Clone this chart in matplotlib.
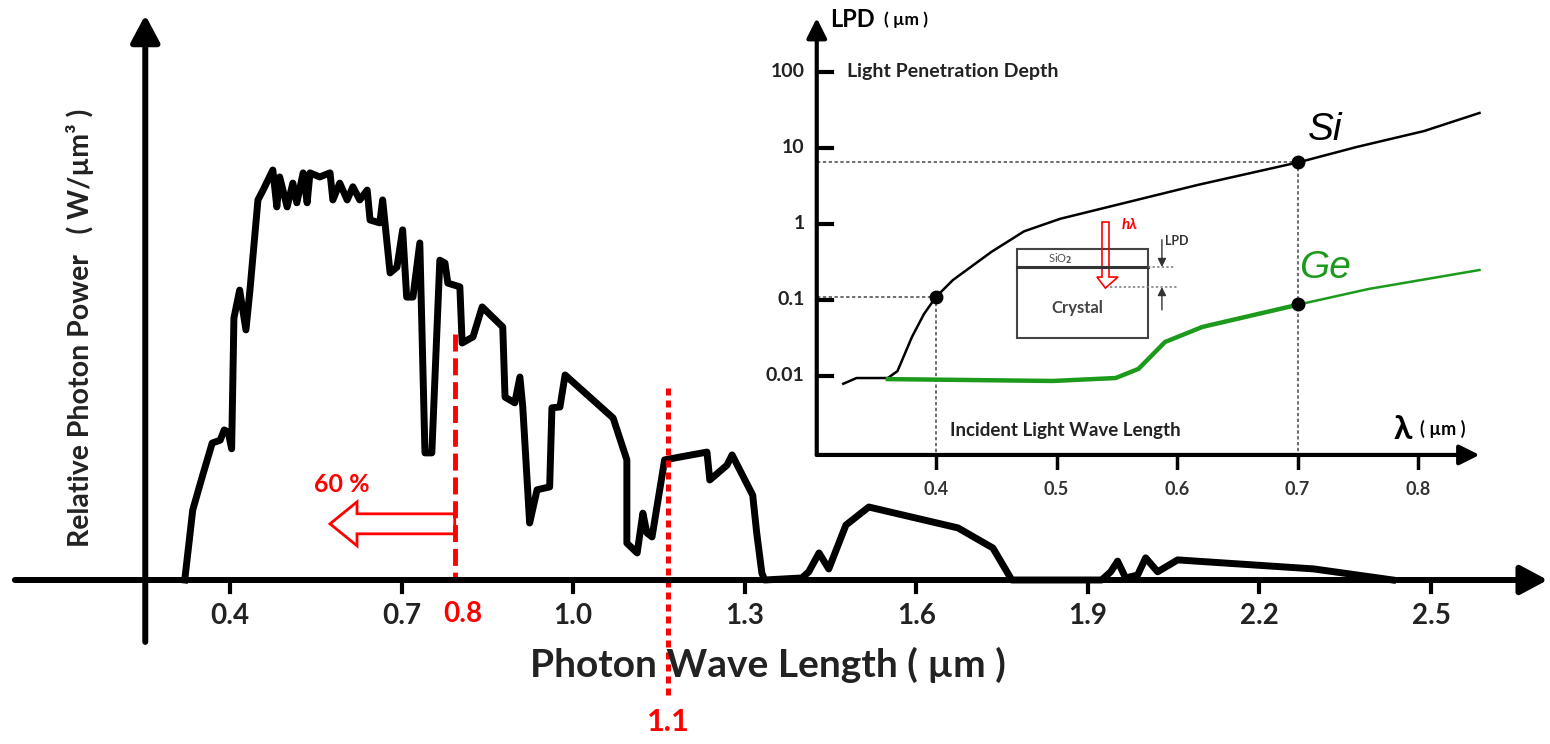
import matplotlib.pyplot as plt
from matplotlib.patches import FancyArrow, Rectangle, Polygon
import numpy as np

plt.rcParams['font.family'] = ['Lato', 'DejaVu Sans']
plt.rcParams['font.weight'] = 'bold'

# --- main chart: relative photon power of sunlight vs wavelength (um)
wavelength = [0.321, 0.335, 0.351, 0.369, 0.383, 0.390, 0.397, 0.403, 0.407, 0.417,
              0.428, 0.435, 0.449, 0.458, 0.475, 0.482, 0.487, 0.500, 0.510, 0.517,
              0.528, 0.535, 0.540, 0.557, 0.575, 0.580, 0.592, 0.605, 0.615, 0.627,
              0.640, 0.645, 0.662, 0.667, 0.680, 0.692, 0.702, 0.709, 0.720, 0.732,
              0.741, 0.753, 0.767, 0.776, 0.781, 0.802, 0.806, 0.825, 0.841, 0.877,
              0.881, 0.898, 0.907, 0.912, 0.924, 0.937, 0.959, 0.963, 0.977, 0.986,
              1.070, 1.094, 1.094, 1.112, 1.122, 1.129, 1.138, 1.160, 1.234, 1.239,
              1.269, 1.278, 1.314, 1.321, 1.330, 1.335, 1.400, 1.412, 1.430, 1.447,
              1.477, 1.517, 1.673, 1.734, 1.767, 1.924, 1.940, 1.952, 1.966, 1.987,
              2.001, 2.022, 2.057, 2.295, 2.433]
rel_power = [0.0, 0.171, 0.249, 0.334, 0.341, 0.366, 0.361, 0.320, 0.639, 0.707,
             0.610, 0.707, 0.927, 0.951, 1.0, 0.910, 0.983, 0.910, 0.968, 0.920,
             0.993, 0.920, 0.993, 0.983, 0.993, 0.927, 0.968, 0.927, 0.959, 0.927,
             0.951, 0.878, 0.871, 0.927, 0.749, 0.763, 0.854, 0.690, 0.690, 0.822,
             0.310, 0.310, 0.780, 0.773, 0.724, 0.715, 0.578, 0.593, 0.666, 0.617,
             0.446, 0.432, 0.495, 0.422, 0.139, 0.220, 0.227, 0.420, 0.422, 0.500,
             0.395, 0.293, 0.090, 0.066, 0.163, 0.115, 0.105, 0.293, 0.312, 0.244,
             0.280, 0.305, 0.207, 0.115, 0.017, 0.0, 0.005, 0.020, 0.066, 0.027,
             0.134, 0.178, 0.127, 0.078, 0.0, 0.0, 0.020, 0.046, 0.005, 0.012,
             0.054, 0.020, 0.049, 0.027, 0.0]
main_ticks = [0.4, 0.7, 1.0, 1.3, 1.6, 1.9, 2.2, 2.5]
cut_low = 0.793        # "0.8" marker line (60 % of the power to its left)
cut_low_top = 0.6
cut_high = 1.166       # dotted line labelled "1.1"
cut_high_span = (0.468, -0.28)

# --- inset: light penetration depth (um, log) vs incident wavelength (um)
si_wl = [0.323, 0.334, 0.360, 0.368, 0.380, 0.390, 0.400, 0.414, 0.446, 0.473,
         0.503, 0.617, 0.702, 0.749, 0.805, 0.851]
si_lpd = [0.0079, 0.0094, 0.0094, 0.0116, 0.0326, 0.0655, 0.11, 0.183, 0.43, 0.80,
          1.17, 3.26, 6.55, 10.3, 16.7, 28.9]
ge_wl = [0.360, 0.497, 0.549, 0.568, 0.590, 0.621, 0.703, 0.759, 0.851]
ge_lpd = [0.0091, 0.0086, 0.0094, 0.0124, 0.028, 0.0442, 0.0886, 0.1396, 0.248]
inset_xticks = [0.4, 0.5, 0.6, 0.7, 0.8]
inset_yticks = [100, 10, 1, 0.1, 0.01]
inset_ylabels = ['100', '10', '1', '0.1', '0.01']
marked_wl = [0.4, 0.7, 0.7]
marked_lpd = [0.11, 6.55, 0.0886]

fig = plt.figure(figsize=(15.5, 7.44), dpi=100)

# ---------------- main chart ----------------
ax = fig.add_axes([0, 0, 1, 1])
ax.set_xlim(-0.002, 2.708)
ax.set_ylim(-0.4, 1.4146)
ax.axis('off')

axis_arrow = dict(arrowstyle='-|>,head_length=0.75,head_width=0.4', color='black',
                  lw=4.3, shrinkA=0, shrinkB=0, mutation_scale=22)
ax.annotate('', xy=(0.252, 1.378), xytext=(0.252, -0.151), arrowprops=axis_arrow)
ax.annotate('', xy=(2.704, 0), xytext=(0.024, 0), arrowprops=axis_arrow)

for t in main_ticks:
    ax.plot([t, t], [0, -0.03], color='black', lw=3)
    ax.text(t, -0.088, f'{t:.1f}', ha='center', va='center', fontsize=20, color='#222')

ax.plot(wavelength, rel_power, color='black', lw=5, solid_joinstyle='round')

ax.text(1.341, -0.207, 'Photon Wave Length ( µm )', ha='center', va='center',
        fontsize=28, color='#222')
ax.text(0.138, 0.615, 'Relative Photon Power   ( W/µm³ )', rotation=90,
        ha='center', va='center', fontsize=20.5, color='#222')

# red markers
ax.plot([cut_low, cut_low], [cut_low_top, 0], color='red', lw=3.5, dashes=(3.5, 1.4))
ax.text(0.808, -0.082, '0.8', color='red', ha='center', va='center', fontsize=20)
ax.add_patch(FancyArrow(cut_low, 0.137, -(cut_low - 0.575), 0, width=0.0488,
                        head_width=0.107, head_length=0.0472, length_includes_head=True,
                        fill=False, ec='red', lw=2))
ax.text(0.596, 0.234, '60 %', color='red', ha='center', va='center', fontsize=18)
ax.plot([cut_high, cut_high], cut_high_span, color='red', lw=3.6, dashes=(1.4, 1.0))
ax.text(cut_high, -0.346, '1.1', color='red', ha='center', va='center', fontsize=22)

# ---------------- inset ----------------
ins = fig.add_axes([790 / 1550, 1 - 470 / 744, 760 / 1550, 470 / 744])
ins.set_yscale('log')
ins.set_xlim(0.2788, 0.9095)
ins.set_ylim(10 ** -3.237, 10 ** 2.947)
ins.axis('off')

x0 = 0.301
y0 = 10 ** -3.039
small_arrow = dict(arrowstyle='-|>,head_length=0.8,head_width=0.4', color='black',
                   lw=3, shrinkA=0, shrinkB=0, mutation_scale=15)
ins.annotate('', xy=(x0, 10 ** 2.71), xytext=(x0, y0), arrowprops=small_arrow)
ins.annotate('', xy=(0.851, y0), xytext=(x0, y0), arrowprops=small_arrow)

for v, lab in zip(inset_yticks, inset_ylabels):
    ins.plot([x0, 0.3137], [v, v], color='black', lw=3)
    ins.text(0.291, v, lab, ha='right', va='center', fontsize=14, color='#222')
for t in inset_xticks:
    ins.plot([t, t], [y0, 10 ** -3.21], color='black', lw=2.5)
    ins.text(t, 10 ** -3.5, f'{t:.1f}', ha='center', va='center', fontsize=13, color='#333')

guide = dict(color='#555', lw=1.2, dashes=(2, 1.5))
ins.plot([x0, marked_wl[1]], [marked_lpd[1], marked_lpd[1]], **guide)
ins.plot([marked_wl[1], marked_wl[1]], [marked_lpd[1], y0], **guide)
ins.plot([x0, marked_wl[0]], [marked_lpd[0], marked_lpd[0]], **guide)
ins.plot([marked_wl[0], marked_wl[0]], [marked_lpd[0], y0], **guide)

ins.plot(si_wl, si_lpd, color='black', lw=1.8)
ins.plot(ge_wl[:7], ge_lpd[:7], color='#1c9a1c', lw=3.2)
ins.plot(ge_wl[6:], ge_lpd[6:], color='#1c9a1c', lw=1.8)
ins.plot(marked_wl, marked_lpd, 'o', color='black', ms=9)

ins.text(0.723, 17.3, 'Si', fontsize=28, style='italic', fontweight='normal',
         family=['Liberation Sans', 'DejaVu Sans'], ha='center', va='center')
ins.text(0.723, 0.264, 'Ge', fontsize=28, style='italic', fontweight='normal',
         color='#1c9a1c', family=['Liberation Sans', 'DejaVu Sans'], ha='center', va='center')

ins.text(0.312, 10 ** 2.684, 'LPD', fontsize=17, ha='left', va='center')
ins.text(0.357, 10 ** 2.69, '( µm )', fontsize=12.5, ha='left', va='center')
ins.text(0.326, 100, 'Light Penetration Depth', fontsize=14, ha='left', va='center', color='#222')
ins.text(0.4116, 10 ** -2.711, 'Incident Light Wave Length', fontsize=13.5, ha='left',
         va='center', color='#222')
ins.text(0.7875, 10 ** -2.70, 'λ', fontsize=24, ha='center', va='center')
ins.text(0.8016, 10 ** -2.70, '( µm )', fontsize=13, ha='left', va='center')

# ---------------- schematic of the crystal ----------------
sch = fig.add_axes([1010 / 1550, 1 - 345 / 744, 180 / 1550, 130 / 744])
sch.set_xlim(0, 1)
sch.set_ylim(0, 1)
sch.axis('off')
sch.add_patch(Rectangle((0.039, 0.054), 0.728, 0.684, fill=False, ec='#444', lw=1.5))
sch.plot([0.039, 0.767], [0.6, 0.6], color='#333', lw=2.2)
sch.text(0.278, 0.665, 'SiO$_2$', fontsize=8, color='#555', ha='center', va='center',
         fontweight='normal')
sch.text(0.372, 0.285, 'Crystal', fontsize=12, color='#444', ha='center', va='center')
sch.add_patch(Polygon([(0.511, 0.946), (0.55, 0.946), (0.55, 0.523), (0.6, 0.523),
                       (0.53, 0.438), (0.483, 0.523), (0.511, 0.523)],
                      closed=True, fill=False, ec='red', lw=1.2))
sch.text(0.62, 0.925, 'hλ', color='red', fontsize=11, style='italic', ha='left', va='center')
sch.text(0.86, 0.8, 'LPD', color='#333', fontsize=9, ha='left', va='center')
tiny = dict(arrowstyle='-|>,head_length=0.5,head_width=0.25', color='#333', lw=1,
            shrinkA=0, shrinkB=0, mutation_scale=10)
sch.annotate('', xy=(0.844, 0.6), xytext=(0.844, 0.81), arrowprops=tiny)
sch.annotate('', xy=(0.844, 0.446), xytext=(0.844, 0.27), arrowprops=tiny)
sch.plot([0.767, 0.917], [0.6, 0.6], color='#777', lw=1.1, dashes=(1.5, 1.5))
sch.plot([0.556, 0.928], [0.446, 0.446], color='#777', lw=1.1, dashes=(1.5, 1.5))

fig.savefig('out.png', dpi=100)
